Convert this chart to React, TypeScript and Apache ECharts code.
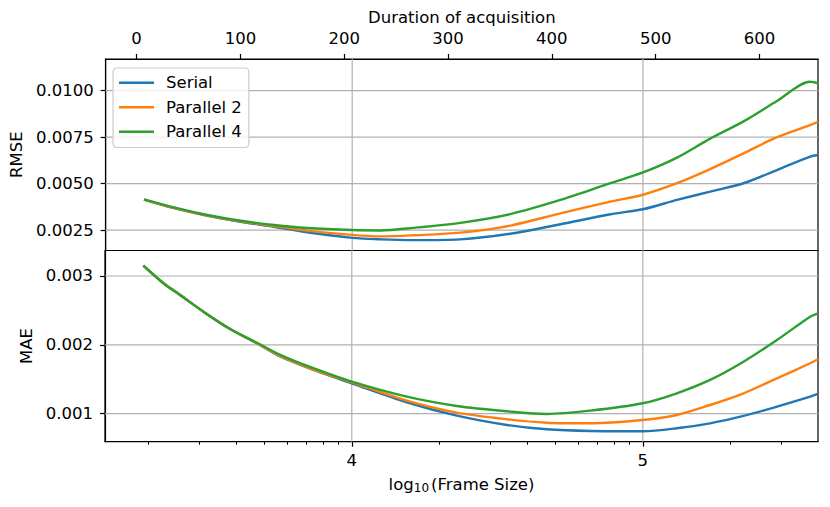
import React, { useEffect, useRef } from "react";
import * as echarts from "echarts";

// log10(Frame Size) sample positions, RMSE panel
const rmseX = [3.284, 3.387, 3.502, 3.616, 3.731, 3.845, 4.0, 4.097, 4.211, 4.372, 4.544, 4.716, 4.888, 5.0, 5.117, 5.231, 5.346, 5.461, 5.575, 5.602];
const rmseSerial = [0.00414, 0.00368, 0.00327, 0.00295, 0.00268, 0.00238, 0.00208, 0.002, 0.00196, 0.002, 0.0023, 0.00281, 0.00335, 0.00362, 0.00412, 0.00457, 0.00502, 0.00573, 0.00645, 0.00654];
const rmseP2 = [0.00414, 0.00369, 0.00328, 0.00297, 0.00272, 0.00247, 0.00224, 0.00216, 0.00222, 0.00236, 0.00274, 0.0034, 0.00403, 0.0044, 0.00502, 0.00578, 0.00663, 0.0075, 0.00815, 0.00833];
const rmseP4 = [0.00415, 0.00372, 0.00331, 0.003, 0.00277, 0.00261, 0.0025, 0.00248, 0.00262, 0.00289, 0.00336, 0.00412, 0.00502, 0.0056, 0.0064, 0.00742, 0.00835, 0.00945, 0.01048, 0.0104];

// noise half-width of the RMSE curves from log10 = 4.716 onward (same points as rmseX[11..])
const rmseNoiseStart = 11;
const rmseNoiseSerial = [3.5e-5, 5.5e-5, 7e-5, 1.05e-4, 1.25e-4, 1.5e-4, 1.75e-4, 2.1e-4, 2.1e-4];
const rmseNoiseP2 = [2e-5, 4e-5, 5.5e-5, 7.5e-5, 1.05e-4, 1.25e-4, 1.45e-4, 1.75e-4, 1.75e-4];
const rmseNoiseP4 = [2e-5, 3.5e-5, 4e-5, 6e-5, 8.5e-5, 1.15e-4, 1.5e-4, 2.2e-4, 2.2e-4];

// log10(Frame Size) sample positions, MAE panel
const maeX = [3.284, 3.353, 3.41, 3.49, 3.582, 3.674, 3.754, 3.868, 4.0, 4.189, 4.361, 4.533, 4.67, 4.819, 5.0, 5.117, 5.231, 5.346, 5.461, 5.575, 5.602];
const maeSerial = [0.00315, 0.002894, 0.002724, 0.002482, 0.00223, 0.002022, 0.00183, 0.001635, 0.001441, 0.001166, 0.000971, 0.000836, 0.000773, 0.000749, 0.000745, 0.000788, 0.00086, 0.000967, 0.001102, 0.001247, 0.001286];
const maeP2 = [0.00315, 0.002894, 0.002724, 0.002482, 0.00223, 0.002022, 0.00184, 0.00164, 0.001456, 0.001189, 0.001015, 0.000919, 0.000869, 0.00086, 0.000908, 0.000981, 0.001126, 0.001296, 0.001514, 0.001732, 0.00179];
const maeP4 = [0.00315, 0.002894, 0.002724, 0.002482, 0.00223, 0.00203, 0.001855, 0.00166, 0.001465, 0.001247, 0.001112, 0.001035, 0.000996, 0.001044, 0.001151, 0.001296, 0.00149, 0.001755, 0.00207, 0.002409, 0.002458];

// noise half-width of the MAE curves from log10 = 5.117 onward (maeX[15..])
const maeNoiseStart = 15;
const maeNoiseSerial = [3e-6, 4e-6, 5e-6, 7e-6, 9e-6, 9e-6];
const maeNoiseP2 = [3e-6, 5e-6, 7e-6, 9e-6, 1.3e-5, 1.3e-5];
const maeNoiseP4 = [5e-6, 8e-6, 1.4e-5, 2e-5, 3.8e-5, 3.8e-5];

const seriesNames = ["Serial", "Parallel 2", "Parallel 4"];
const colors = ["#1f77b4", "#ff7f0e", "#2ca02c"];

const rmseTicks = [0.0025, 0.005, 0.0075, 0.01];
const maeTicks = [0.001, 0.002, 0.003];
const majorXTicks = [4, 5];
const minorXTicks = [
  2000, 3000, 4000, 5000, 6000, 7000, 8000, 9000,
  20000, 30000, 40000, 50000, 60000, 70000, 80000, 90000,
  200000, 300000,
].map((v) => Math.log10(v));
const durationTicks = [0, 100, 200, 300, 400, 500, 600];

const X_MIN = 3.152;
const X_MAX = 5.602;
const RMSE_MIN = 0.0014;
const RMSE_MAX = 0.011706;
const MAE_MIN = 0.000593;
const MAE_MAX = 0.00337;
const FONT = "DejaVu Sans";
const FS = 16.5;
const GRID_COLOR = "#b0b0b0";

function pairs(xs: number[], ys: number[]) {
  return xs.map((x, i) => [x, ys[i]]);
}

export default function App() {
  const ref = useRef<HTMLDivElement>(null);
  useEffect(() => {
    if (!ref.current) return;
    const chart = echarts.init(ref.current, undefined, { renderer: "svg" });
    const txt = { fontFamily: FONT, fontSize: FS, color: "#000" };
    const axisLine = { show: true, onZero: false, lineStyle: { color: "#000", width: 1.2 } };
    const lineSeries = (name: string, color: string, data: number[][], xi: number, yi: number) => ({
      type: "line",
      name,
      xAxisIndex: xi,
      yAxisIndex: yi,
      data,
      symbol: "none",
      smooth: 0.3,
      lineStyle: { color, width: 2.4 },
      itemStyle: { color },
      z: 3,
    });
    const band = (id: string, color: string, xs: number[], ys: number[], start: number, half: number[], xi: number, yi: number) => {
      const bx = xs.slice(start);
      const by = ys.slice(start);
      return [
        {
          type: "line", xAxisIndex: xi, yAxisIndex: yi, stack: id, symbol: "none", smooth: 0.3, silent: true, z: 3,
          lineStyle: { width: 0, opacity: 0 },
          data: pairs(bx, by.map((v, i) => v - half[i])),
        },
        {
          type: "line", xAxisIndex: xi, yAxisIndex: yi, stack: id, symbol: "none", smooth: 0.3, silent: true, z: 3,
          lineStyle: { width: 0, opacity: 0 },
          areaStyle: { color, opacity: 1 },
          data: pairs(bx, half.map((h) => 2 * h)),
        },
      ];
    };
    const gridSeg = (xi: number, yi: number, data: number[][]) => ({
      type: "line",
      xAxisIndex: xi,
      yAxisIndex: yi,
      data,
      symbol: "none",
      silent: true,
      z: 1,
      lineStyle: { color: GRID_COLOR, width: 1.2 },
    });
    const gridLines: any[] = [];
    majorXTicks.forEach((v) => {
      gridLines.push(gridSeg(0, 0, [[v, RMSE_MIN], [v, RMSE_MAX]]));
      gridLines.push(gridSeg(2, 1, [[v, MAE_MIN], [v, MAE_MAX]]));
    });
    rmseTicks.forEach((v) => gridLines.push(gridSeg(0, 0, [[X_MIN, v], [X_MAX, v]])));
    maeTicks.forEach((v) => gridLines.push(gridSeg(2, 1, [[X_MIN, v], [X_MAX, v]])));

    chart.setOption({
      animation: false,
      textStyle: { fontFamily: FONT },
      legend: {
        data: seriesNames,
        orient: "vertical",
        left: 113,
        top: 68,
        padding: [6, 7, 7, 6],
        icon: "rect",
        itemWidth: 35,
        itemHeight: 2.4,
        itemGap: 7,
        backgroundColor: "rgba(255,255,255,0.8)",
        borderColor: "#cccccc",
        borderWidth: 1.2,
        borderRadius: 4,
        textStyle: { ...txt, lineHeight: 17.5, padding: [0, 0, 0, 7] },
      },
      grid: [
        { left: 105, top: 59, width: 713, height: 191.5, show: true, borderColor: "#000", borderWidth: 1.2, backgroundColor: "transparent" },
        { left: 105, top: 250.5, width: 713, height: 191.2, show: true, borderColor: "#000", borderWidth: 1.2, backgroundColor: "transparent" },
      ],
      xAxis: [
        { type: "value", gridIndex: 0, min: X_MIN, max: X_MAX, show: false },
        {
          type: "value", gridIndex: 0, position: "top", min: -29.8, max: 656.4,
          axisLine, splitLine: { show: false },
          axisTick: { show: true, customValues: durationTicks, length: 5, lineStyle: { color: "#000", width: 1.2 } },
          axisLabel: { ...txt, customValues: durationTicks, margin: 12 },
          name: "Duration of acquisition", nameLocation: "middle", nameGap: 33,
          nameTextStyle: txt,
        },
        {
          type: "value", gridIndex: 1, position: "bottom", min: X_MIN, max: X_MAX,
          axisLine, splitLine: { show: false },
          axisTick: { show: true, customValues: majorXTicks, length: 5, lineStyle: { color: "#000", width: 1.2 } },
          axisLabel: { ...txt, customValues: majorXTicks, margin: 10 },
          name: "log{sub|10}(Frame Size)", nameLocation: "middle", nameGap: 33,
          nameTextStyle: {
            ...txt,
            rich: {
              sub: { fontFamily: FONT, fontSize: 12, color: "#000", verticalAlign: "bottom", padding: [7, 2, 0, 0] },
            },
          },
        },
        {
          type: "value", gridIndex: 1, position: "bottom", min: X_MIN, max: X_MAX,
          axisLine: { show: false, onZero: false }, splitLine: { show: false },
          axisTick: { show: true, customValues: minorXTicks, length: 3, lineStyle: { color: "#000", width: 1 } },
          axisLabel: { show: false },
        },
      ],
      yAxis: [
        {
          type: "value", gridIndex: 0, min: RMSE_MIN, max: RMSE_MAX,
          axisLine, splitLine: { show: false },
          axisTick: { show: true, customValues: rmseTicks, length: 5, lineStyle: { color: "#000", width: 1.2 } },
          axisLabel: { ...txt, customValues: rmseTicks, margin: 12, formatter: (v: number) => v.toFixed(4) },
          name: "RMSE", nameLocation: "middle", nameGap: 75, nameTextStyle: txt,
        },
        {
          type: "value", gridIndex: 1, min: MAE_MIN, max: MAE_MAX,
          axisLine, splitLine: { show: false },
          axisTick: { show: true, customValues: maeTicks, length: 5, lineStyle: { color: "#000", width: 1.2 } },
          axisLabel: { ...txt, customValues: maeTicks, margin: 12, formatter: (v: number) => v.toFixed(3) },
          name: "MAE", nameLocation: "middle", nameGap: 64, nameTextStyle: txt,
        },
      ],
      series: [
        ...gridLines,
        lineSeries(seriesNames[0], colors[0], pairs(rmseX, rmseSerial), 0, 0),
        ...band("rs", colors[0], rmseX, rmseSerial, rmseNoiseStart, rmseNoiseSerial, 0, 0),
        lineSeries(seriesNames[1], colors[1], pairs(rmseX, rmseP2), 0, 0),
        ...band("r2", colors[1], rmseX, rmseP2, rmseNoiseStart, rmseNoiseP2, 0, 0),
        lineSeries(seriesNames[2], colors[2], pairs(rmseX, rmseP4), 0, 0),
        ...band("r4", colors[2], rmseX, rmseP4, rmseNoiseStart, rmseNoiseP4, 0, 0),
        lineSeries(seriesNames[0], colors[0], pairs(maeX, maeSerial), 2, 1),
        ...band("ms", colors[0], maeX, maeSerial, maeNoiseStart, maeNoiseSerial, 2, 1),
        lineSeries(seriesNames[1], colors[1], pairs(maeX, maeP2), 2, 1),
        ...band("m2", colors[1], maeX, maeP2, maeNoiseStart, maeNoiseP2, 2, 1),
        lineSeries(seriesNames[2], colors[2], pairs(maeX, maeP4), 2, 1),
        ...band("m4", colors[2], maeX, maeP4, maeNoiseStart, maeNoiseP4, 2, 1),
      ],
    });
    return () => chart.dispose();
  }, []);
  return <div ref={ref} style={{ width: 830, height: 507, margin: -8 }} />;
}
